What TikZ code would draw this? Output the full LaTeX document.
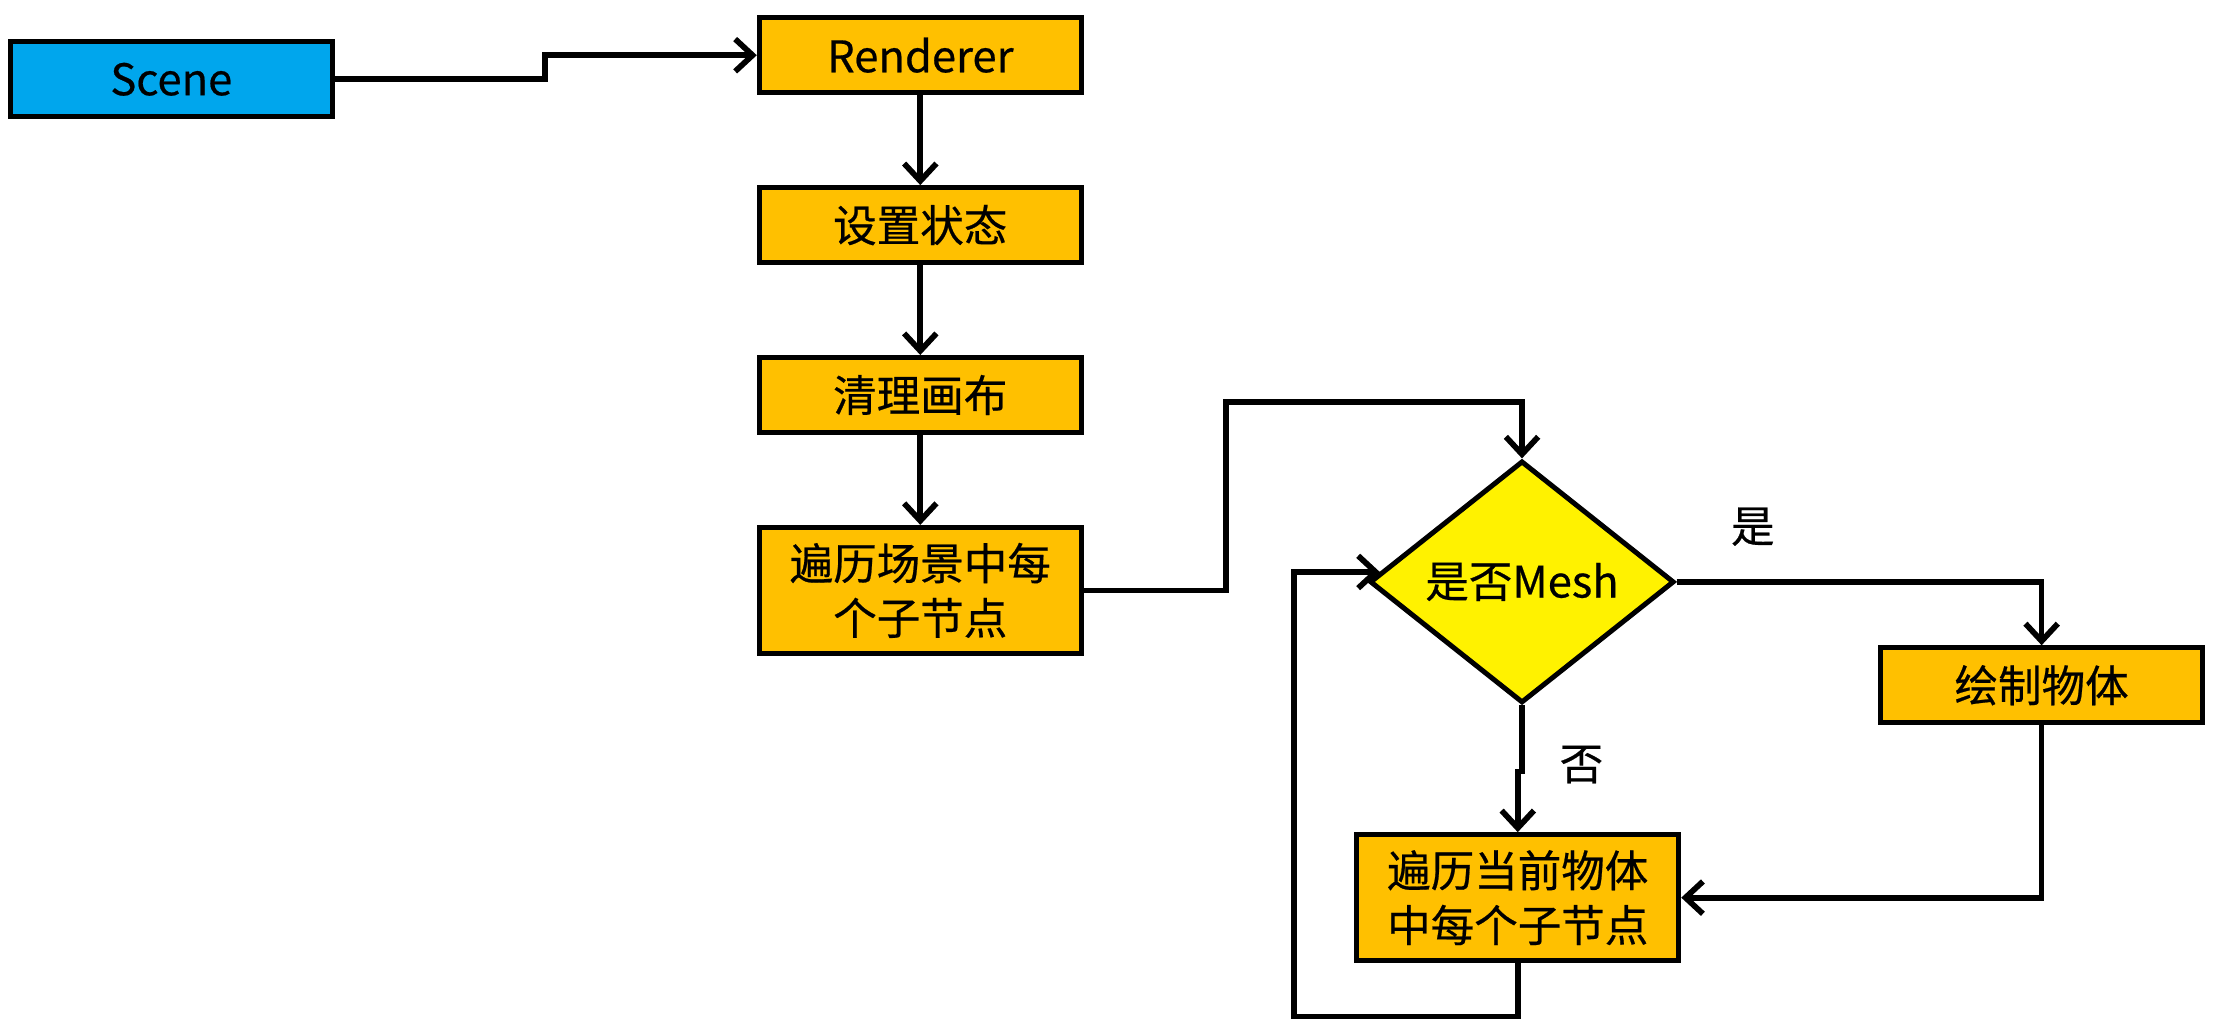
\documentclass[tikz,border=0pt]{standalone}
\usepackage{fontspec}
\setmainfont{Noto Sans CJK SC}[FakeBold=0.5]
\usetikzlibrary{arrows.meta,
                shapes.geometric,
                positioning}
\definecolor{sceneblue}{RGB}{0,166,237}
\definecolor{boxgold}{RGB}{255,192,0}
\definecolor{testyellow}{RGB}{255,242,0}

\begin{document}
\begin{tikzpicture}[x=0.02cm,y=-0.02cm,
   box/.style={draw=black,line width=2pt,fill=boxgold,minimum width=4.55cm,
               minimum height=1.06cm,inner sep=2pt,align=center,
               font=\fontsize{17.5}{22}\selectfont},
   tallbox/.style={box,minimum height=1.78cm},
   test/.style={draw=black,line width=2pt,fill=testyellow,diamond,inner sep=0pt,
                minimum width=4.3cm,minimum height=3.42cm,
                font=\fontsize{17.5}{22}\selectfont},
   flow/.style={line width=2.3pt,-{Straight Barb[length=7pt,width=13pt,line width=2.3pt]}},
   tag/.style={font=\fontsize{17.5}{22}\selectfont}]
 \useasboundingbox (0,0) rectangle (1568,724);
 % left column
 \node[box,fill=sceneblue] (scene)    at (121,56)  {Scene};
 \node[box]                (renderer) at (650,39)  {Renderer};
 \node[box]                (state)    at (650,159) {设置状态};
 \node[box]                (clear)    at (650,279) {清理画布};
 \node[tallbox]            (walk)     at (650,417) {遍历场景中每\\个子节点};
 % right part
 \node[test]               (ismesh)   at (1075,411) {是否Mesh};
 \node[box]                (draw)     at (1442,484) {绘制物体};
 \node[tallbox]            (child)    at (1072,634) {遍历当前物体\\中每个子节点};
 \node[tag] at (1238,372) {是};
 \node[tag] at (1117,540) {否};

 \draw[flow] (scene.east) -- (385,56) |- (renderer.west);
 \draw[flow] (renderer) -- (state);
 \draw[flow] (state) -- (clear);
 \draw[flow] (clear) -- (walk);
 \draw[flow] (walk.east) -| (866,284) -| (ismesh.north);
 \draw[flow] (ismesh.east) -| (draw.north);
 \draw[flow] (ismesh.south) -- (1075,545) -- (1072,545) -- (child.north);
 \draw[flow] (draw.south) |- (child.east);
 \draw[flow] (child.south) |- (914,718) |- (ismesh.176);
\end{tikzpicture}
\end{document}
